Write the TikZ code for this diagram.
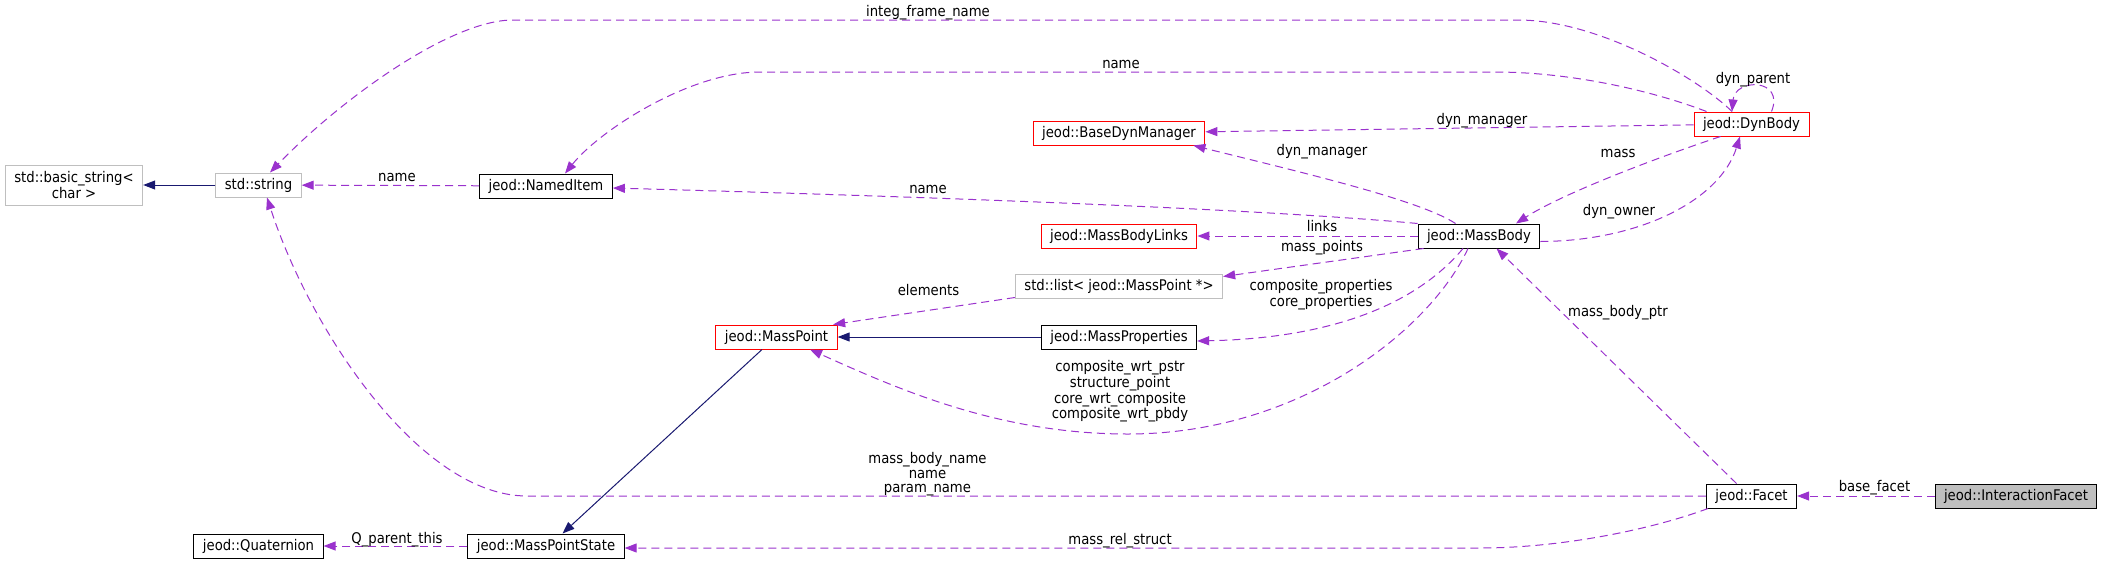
\documentclass[tikz,border=0pt]{standalone}
\usepackage{fontspec}
\setmainfont{DejaVu Sans Condensed}
\usetikzlibrary{arrows.meta}
\definecolor{edgepurple}{HTML}{9A32CD}
\definecolor{edgeblue}{HTML}{191970}
\definecolor{boxgray}{HTML}{BFBFBF}
\begin{document}
\begin{tikzpicture}[x = 1pt, y = -1pt,
	cls/.style = {draw, line width = 1pt, inner xsep = 9pt, inner ysep = 0pt, minimum height = 24pt, font = \fontsize{14.7}{14.5}\selectfont},
	redcls/.style = {cls, draw = red},
	extcls/.style = {cls, draw = boxgray},
	member/.style = {edgepurple, line width = 1pt, dash pattern = on 8pt off 5pt, -{Triangle[length = 12pt, width = 9pt]}},
	derived/.style = {edgeblue, line width = 1pt, -{Triangle[length = 12pt, width = 9pt]}}]
	\tikzstyle{lbl}=[inner sep = 0pt, align = center, font = \fontsize{14.7}{14.5}\selectfont]
	\useasboundingbox (0, 0) rectangle (2103, 565);
	\node (basicstr) at (74, 185) [extcls, align = center, minimum height = 40pt] {std::basic\_string<\\char >};
	\node (string) at (258.5, 185) [extcls] {std::string};
	\node (nameditem) at (546, 186) [cls] {jeod::NamedItem};
	\node (quaternion) at (258.5, 546) [cls] {jeod::Quaternion};
	\node (mpstate) at (546, 546) [cls] {jeod::MassPointState};
	\node (basedyn) at (1119, 133) [redcls] {jeod::BaseDynManager};
	\node (links) at (1119, 236) [redcls] {jeod::MassBodyLinks};
	\node (stdlist) at (1119, 286.5) [extcls] {std::list< jeod::MassPoint *>};
	\node (masspoint) at (776.5, 337) [redcls] {jeod::MassPoint};
	\node (massprops) at (1119, 337) [cls] {jeod::MassProperties};
	\node (dynbody) at (1751.5, 124) [redcls] {jeod::DynBody};
	\node (massbody) at (1479, 236) [cls] {jeod::MassBody};
	\node (facet) at (1751.5, 496) [cls] {jeod::Facet};
	\node (ifacet) at (2016, 496) [cls, fill = boxgray] {jeod::InteractionFacet};

	\draw[derived] (string) -- (basicstr);
	\draw[derived] (massprops) -- (masspoint);
	\draw[derived] ([xshift = -14.5pt]masspoint.south) -- ([xshift = 16.5pt]mpstate.north);

	\draw[member] (nameditem) -- (string);
	\draw[member] ([xshift = -19.5pt]dynbody.north) .. controls (1700, 80) and (1600, 20) .. (1518, 20) -- (513, 20) .. controls (450, 20) and (340, 100) .. ([xshift = 11.5pt]string.north);
	\draw[member] ([xshift = 13pt]dynbody.north west) .. controls (1650, 90) and (1570, 72) .. (1494, 72) -- (760, 72) .. controls (690, 72) and (600, 130) .. ([xshift = 19pt]nameditem.north);
	\draw[member] (dynbody) -- (basedyn);
	\draw[member] ([xshift = 20pt]dynbody.north) .. controls (1785, 78) and (1735, 78) .. ([xshift = -19.5pt]dynbody.north);
	\draw[member] ([xshift = -31pt]dynbody.south) .. controls (1650, 160) and (1560, 195) .. ([xshift = 37pt]massbody.north);
	\draw[member] ([yshift = -5.5pt]massbody.east) .. controls (1640, 241) and (1720, 200) .. ([xshift = -11.5pt]dynbody.south);
	\draw[member] ([xshift = -23.5pt]massbody.north) .. controls (1420, 200) and (1300, 172) .. ([xshift = -12pt]basedyn.south east);
	\draw[member] (massbody.north west) .. controls (1250, 208) and (900, 196) .. ([yshift = -2pt]nameditem.east);
	\draw[member] (massbody) -- (links);
	\draw[member] ([xshift = 6pt]massbody.south west) -- ([yshift = 10pt]stdlist.east);
	\draw[member] ([yshift = -11pt]stdlist.west) -- ([xshift = -4.5pt]masspoint.north east);
	\draw[member] ([xshift = -16pt]massbody.south) .. controls (1420, 300) and (1340, 338) .. ([yshift = -4pt]massprops.east);
	\draw[member] ([xshift = -11pt]massbody.south) .. controls (1430, 330) and (1300, 434) .. (1128, 434) .. controls (1000, 434) and (900, 390) .. ([xshift = 33.5pt]masspoint.south);
	\draw[member] ([xshift = -15pt]facet.north) -- ([xshift = 17.5pt]massbody.south);
	\draw[member] (facet.west) -- (527, 496) .. controls (420, 496) and (310, 330) .. ([xshift = 8.5pt]string.south);
	\draw[member] ([xshift = -43.5pt]facet.south) .. controls (1650, 530) and (1560, 548) .. (1480, 548) -- ([yshift = -2pt]mpstate.east);
	\draw[member] (mpstate) -- (quaternion);
	\draw[member] (ifacet) -- (facet);

	\node (lname1) at (397, 181) [lbl, anchor = base] {name};
	\node (lintegframe) at (928, 16) [lbl, anchor = base] {integ\_frame\_name};
	\node (lname2) at (1121, 68) [lbl, anchor = base] {name};
	\node (ldynmgr1) at (1482, 124) [lbl, anchor = base] {dyn\_manager};
	\node (ldynparent) at (1753, 83) [lbl, anchor = base] {dyn\_parent};
	\node (lmass) at (1618, 157) [lbl, anchor = base] {mass};
	\node (ldynowner) at (1619, 215.5) [lbl, anchor = base] {dyn\_owner};
	\node (ldynmgr2) at (1322, 155) [lbl, anchor = base] {dyn\_manager};
	\node (lname3) at (928, 193) [lbl, anchor = base] {name};
	\node (llinks) at (1322, 231.5) [lbl, anchor = base] {links};
	\node (lmasspoints) at (1322, 251.5) [lbl, anchor = base] {mass\_points};
	\node (lelements) at (928.5, 295.5) [lbl, anchor = base] {elements};
	\node (lprops) at (1321, 294.5) [lbl] {composite\_properties\\core\_properties};
	\node (lpoints) at (1120, 391.5) [lbl] {composite\_wrt\_pstr\\structure\_point\\core\_wrt\_composite\\composite\_wrt\_pbdy};
	\node (lmbptr) at (1618, 316) [lbl, anchor = base] {mass\_body\_ptr};
	\node (lfacetnames) at (927.5, 474.5) [lbl] {mass\_body\_name\\name\\param\_name};
	\node (lrelstruct) at (1120, 544) [lbl, anchor = base] {mass\_rel\_struct};
	\node (lqparent) at (397, 543) [lbl, anchor = base] {Q\_parent\_this};
	\node (lbasefacet) at (1874.5, 491.5) [lbl, anchor = base] {base\_facet};
\end{tikzpicture}
\end{document}
